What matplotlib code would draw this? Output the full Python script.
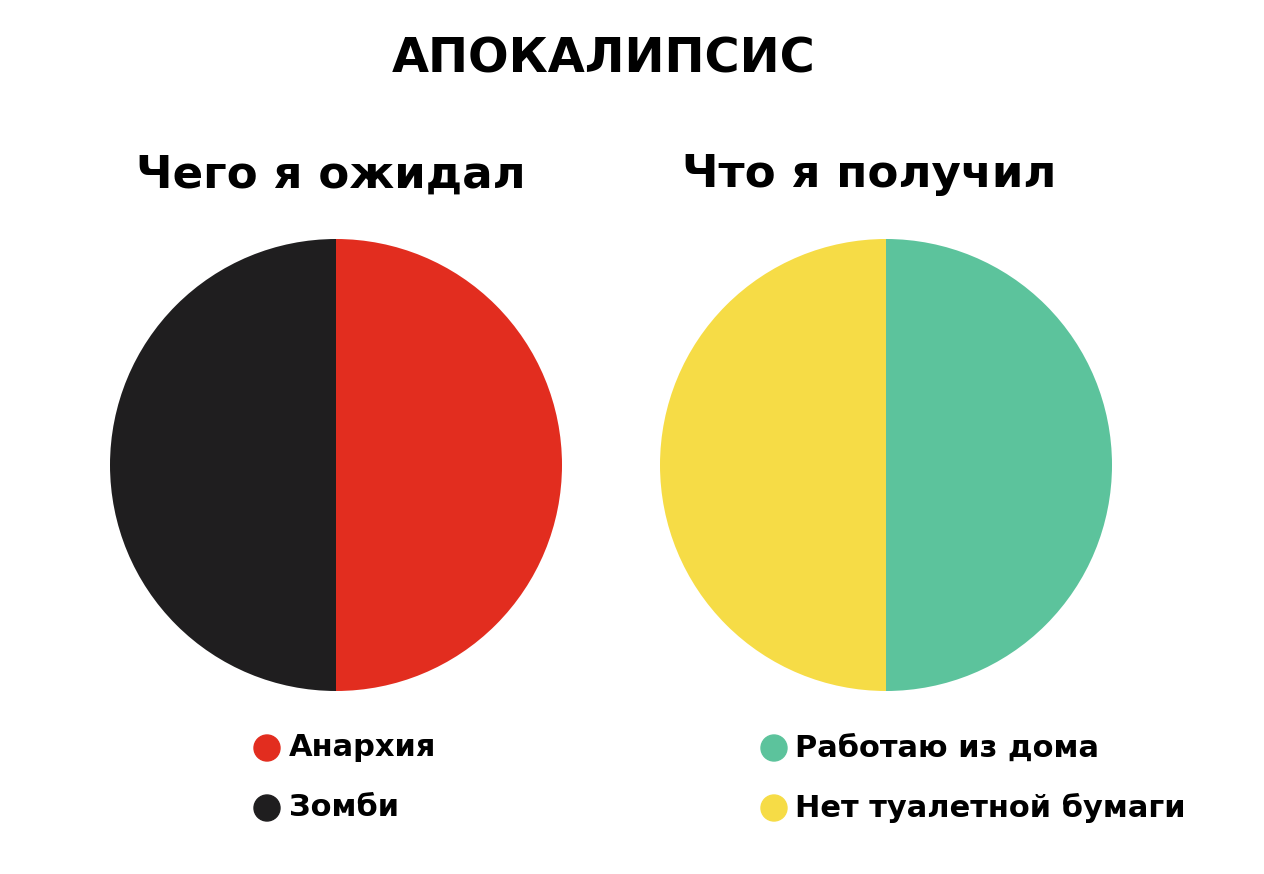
import matplotlib
matplotlib.use("Agg")
import matplotlib.pyplot as plt
from matplotlib.patches import Circle

W, H = 1264, 874
title = "АПОКАЛИПСИС"
subtitles = ["Чего я ожидал", "Что я получил"]
left_labels = ["Анархия", "Зомби"]
left_values = [50, 50]
left_colors = ["#E22D1F", "#1F1E1F"]
right_labels = ["Работаю из дома", "Нет туалетной бумаги"]
right_values = [50, 50]
right_colors = ["#5CC39C", "#F6DC46"]

plt.rcParams['font.family'] = ['DejaVu Sans']

fig = plt.figure(figsize=(W / 100, H / 100), dpi=100)
fig.patch.set_facecolor("white")

def px_axes(cx, cy, r):
    return fig.add_axes([(cx - r) / W, 1 - (cy + r) / H, 2 * r / W, 2 * r / H])

def draw_pie(cx, cy, r, values, colors):
    ax = px_axes(cx, cy, r)
    ax.pie(values, colors=colors, startangle=90, counterclock=False,
           radius=1.0, wedgeprops=dict(linewidth=0))
    ax.set_xlim(-1, 1)
    ax.set_ylim(-1, 1)
    ax.set_aspect("equal")
    ax.axis("off")

draw_pie(336, 465, 226, left_values, left_colors)
draw_pie(886, 465, 226, right_values, right_colors)

def ftext(x, y, s, **kw):
    fig.text(x / W, 1 - y / H, s, **kw)

ftext(604, 59, title, ha="center", va="center", fontsize=34.5, fontweight="bold")
ftext(331, 175, subtitles[0], ha="center", va="center", fontsize=32.5, fontweight="bold")
ftext(869, 175, subtitles[1], ha="center", va="center", fontsize=32.5, fontweight="bold")

def legend(x_marker, x_text, ys, labels, colors):
    for y, lab, col in zip(ys, labels, colors):
        ax = px_axes(x_marker, y, 16)
        ax.add_patch(Circle((0, 0), 13 / 16, color=col, clip_on=False))
        ax.set_xlim(-1, 1)
        ax.set_ylim(-1, 1)
        ax.axis("off")
        ftext(x_text, y, lab, ha="left", va="center", fontsize=22, fontweight="bold")

legend(267, 289, [748, 808], left_labels, left_colors)
legend(774, 795, [748, 808], right_labels, right_colors)

fig.savefig("out.png", dpi=100, facecolor="white")
